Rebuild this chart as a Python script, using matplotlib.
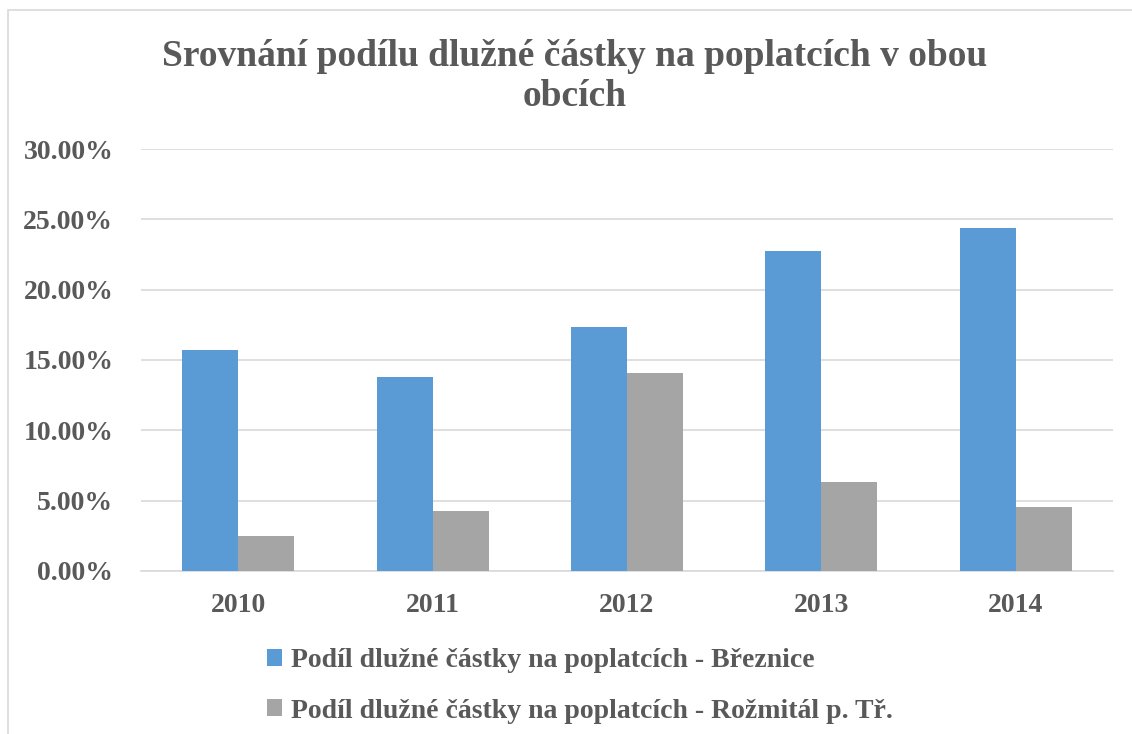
import matplotlib
matplotlib.use("Agg")
import matplotlib.pyplot as plt
import numpy as np
from matplotlib.patches import Rectangle
from matplotlib.ticker import FuncFormatter

years = ["2010", "2011", "2012", "2013", "2014"]
breznice = [15.71, 13.77, 17.36, 22.77, 24.38]
rozmital = [2.51, 4.29, 14.05, 6.35, 4.55]
labels = ["Podíl dlužné částky na poplatcích - Březnice",
          "Podíl dlužné částky na poplatcích - Rožmitál p. Tř."]

txt = "#595959"
plt.rcParams['font.family'] = ['Liberation Serif', 'DejaVu Serif']
plt.rcParams['font.weight'] = 'bold'

fig = plt.figure(figsize=(11.32, 7.34), dpi=100)
ax = fig.add_axes([0.1246, 0.2221, 0.8586, 0.5749])

# chart frame (left and top edges visible)
fig.patches.append(Rectangle((8 / 1132, -0.1), 1.2, 1 - 10 / 734 + 0.1,
                             transform=fig.transFigure, fill=False,
                             edgecolor="#D9D9D9", linewidth=1.2))

x = np.arange(len(years))
w = 0.288
ax.bar(x - w / 2, breznice, w, color="#5B9BD5", label=labels[0], zorder=3)
ax.bar(x + w / 2, rozmital, w, color="#A5A5A5", label=labels[1], zorder=3)

ax.set_xlim(-0.5, len(years) - 0.5)
ax.set_ylim(0, 30)
ax.set_yticks(np.arange(0, 31, 5))
ax.yaxis.set_major_formatter(FuncFormatter(lambda v, p: f"{v:.2f}%"))
ax.set_xticks(x)
ax.set_xticklabels(years)
ax.grid(axis="y", color="#D9D9D9", linewidth=1.2, zorder=0)
for s in ["top", "right", "left"]:
    ax.spines[s].set_visible(False)
ax.spines["bottom"].set_color("#D9D9D9")
ax.spines["bottom"].set_linewidth(1.2)
ax.tick_params(axis="both", length=0, colors=txt, labelsize=20)
ax.tick_params(axis="y", pad=20)
ax.tick_params(axis="x", pad=16)

fig.text(0.508, 0.896, "Srovnání podílu dlužné částky na poplatcích v obou\nobcích",
         ha="center", va="center", fontsize=27, color=txt, fontweight="bold",
         linespacing=1.2)

leg = fig.legend(loc="upper left", bbox_to_anchor=(0.226, 0.132), frameon=False,
                 fontsize=20, handlelength=0.54, handleheight=0.54,
                 handletextpad=0.32, labelspacing=0.91, borderaxespad=0)
for t in leg.get_texts():
    t.set_color(txt)

fig.savefig("out.png", dpi=100)
